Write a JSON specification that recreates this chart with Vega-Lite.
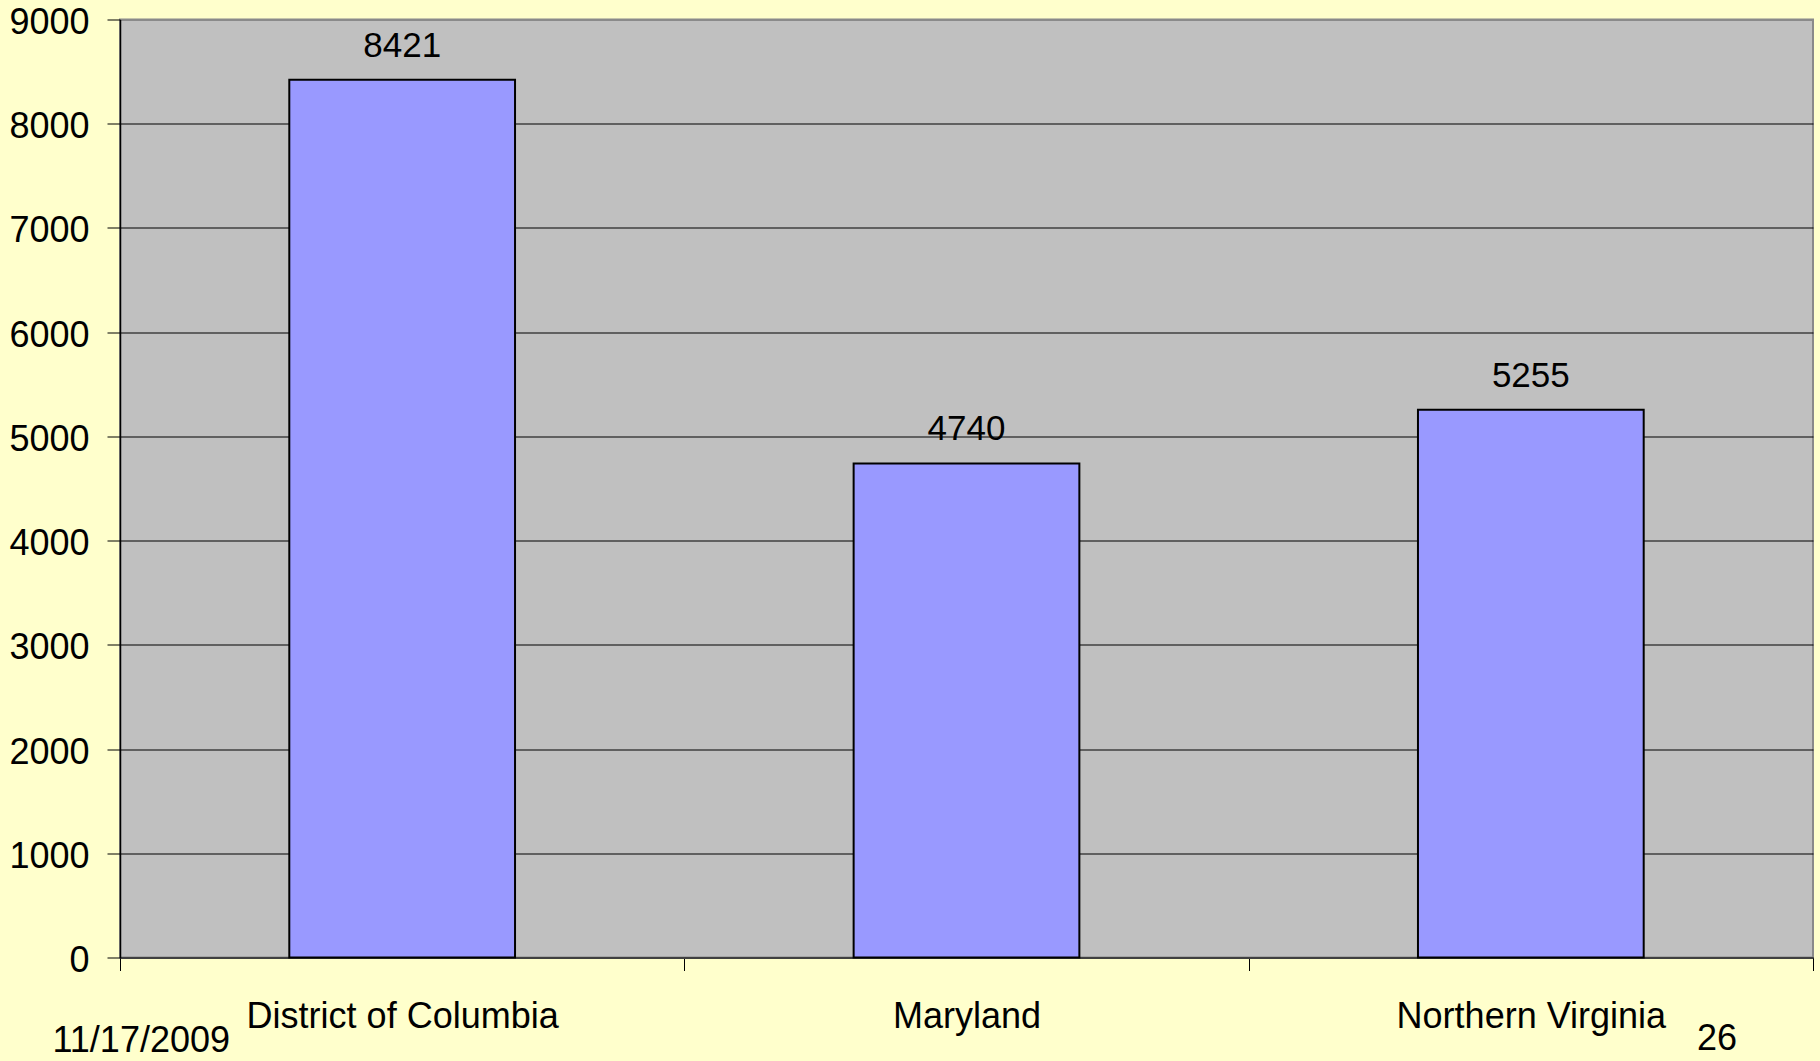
{
  "$schema": "https://vega.github.io/schema/vega-lite/v6.json",
  "width": 1693,
  "height": 938,
  "autosize": {"type": "none"},
  "padding": {"left": 120, "top": 19.5, "right": 7, "bottom": 104},
  "background": "#FFFFCC",
  "config": {
    "font": "Liberation Sans",
    "view": {"fill": "#C0C0C0", "stroke": "#8a8a8a", "strokeWidth": 2}
  },
  "title": {
    "text": "26",
    "orient": "bottom",
    "anchor": "end",
    "frame": "group",
    "font": "Liberation Sans",
    "fontSize": 36,
    "fontWeight": "normal",
    "color": "#000000",
    "baseline": "alphabetic",
    "offset": -9,
    "dx": -76
  },
  "data": {
    "values": [
      {"region": "District of Columbia", "count": 8421},
      {"region": "Maryland", "count": 4740},
      {"region": "Northern Virginia", "count": 5255}
    ]
  },
  "encoding": {
    "x": {
      "field": "region",
      "type": "nominal",
      "sort": null,
      "scale": {"paddingInner": 0, "paddingOuter": 0},
      "axis": {
        "title": "11/17/2009",
        "titleX": -68,
        "titleY": 94,
        "titleAlign": "left",
        "titleAnchor": null,
        "titleBaseline": "alphabetic",
        "titleFont": "Liberation Sans",
        "titleFontSize": 36,
        "titleFontWeight": "normal",
        "titleColor": "#000000",
        "labelAngle": 0,
        "labelFontSize": 36,
        "labelLimit": 0,
        "labelColor": "#000000",
        "labelPadding": 29,
        "labelFont": "Liberation Sans",
        "tickBand": "extent",
        "tickSize": 13,
        "tickColor": "#000000",
        "tickWidth": 1,
        "domainColor": "#404040",
        "domainWidth": 2,
        "grid": false
      }
    },
    "y": {
      "field": "count",
      "type": "quantitative",
      "scale": {"domain": [0, 9000], "nice": false},
      "axis": {
        "title": null,
        "values": [0, 1000, 2000, 3000, 4000, 5000, 6000, 7000, 8000, 9000],
        "format": "d",
        "labelFontSize": 36,
        "labelColor": "#000000",
        "labelFont": "Liberation Sans",
        "labelPadding": 18,
        "labelOffset": 3,
        "tickSize": 13,
        "tickColor": "#000000",
        "tickWidth": 1,
        "domainColor": "#000000",
        "domainWidth": 1.5,
        "grid": true,
        "gridColor": {"condition": {"test": "datum.value == 9000", "value": "#8a8a8a"}, "value": "#000000"},
        "gridWidth": {"condition": {"test": "datum.value == 9000", "value": 2}, "value": 1},
        "gridOpacity": 1
      }
    }
  },
  "layer": [
    {
      "mark": {"type": "bar", "width": {"band": 0.4}, "fill": "#9999FF", "stroke": "#000000", "strokeWidth": 2}
    },
    {
      "mark": {"type": "text", "baseline": "alphabetic", "dy": -23, "fontSize": 35, "font": "Liberation Sans", "color": "#000000"},
      "encoding": {"text": {"field": "count", "type": "quantitative", "format": "d"}}
    }
  ]
}
